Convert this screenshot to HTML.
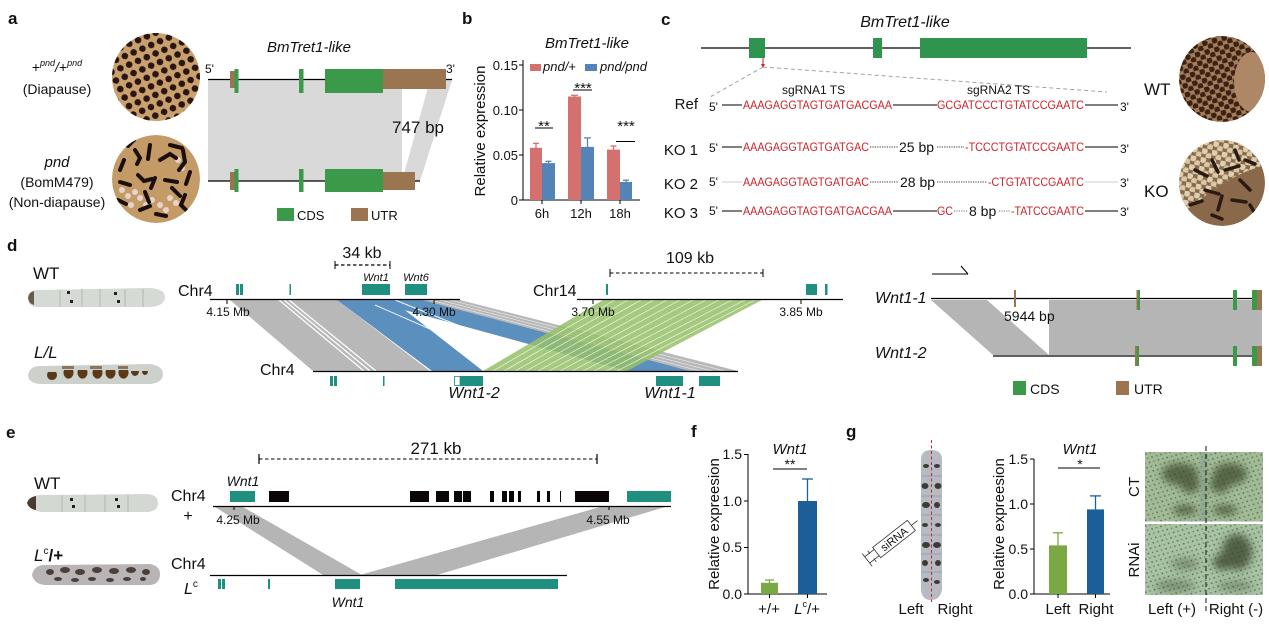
<!DOCTYPE html>
<html><head><meta charset="utf-8"><style>
html,body{margin:0;padding:0;background:#fff;}
svg{display:block;}
text{font-family:"Liberation Sans",Arial,sans-serif;fill:#111;}
.it{font-style:italic;}
.b{font-weight:bold;}
.seq{fill:#cc2229;font-size:11.5px;}
</style></head><body>
<svg width="1269" height="625" viewBox="0 0 1269 625" xmlns="http://www.w3.org/2000/svg">
<defs>
 <pattern id="eggs1" width="14" height="13" patternUnits="userSpaceOnUse" patternTransform="rotate(20)">
  <circle cx="3.5" cy="3.5" r="3.3" fill="#2b1512"/><circle cx="10.5" cy="10" r="3.3" fill="#2b1512"/>
 </pattern>
 <pattern id="eggs2" width="10" height="9" patternUnits="userSpaceOnUse" patternTransform="rotate(-15)">
  <circle cx="2.5" cy="2.5" r="3" fill="#3a2217"/><circle cx="7.5" cy="7" r="3" fill="#3a2217"/>
 </pattern>
 <pattern id="eggs3" width="10" height="9" patternUnits="userSpaceOnUse" patternTransform="rotate(10)">
  <circle cx="2.5" cy="2.5" r="3.2" fill="#ddd0b0"/><circle cx="7.5" cy="7" r="3.2" fill="#d8c8a6"/>
 </pattern>
 <pattern id="speck" width="7" height="6" patternUnits="userSpaceOnUse" patternTransform="rotate(25)">
  <circle cx="1.5" cy="1.5" r="0.9" fill="#3e4a36" opacity="0.7"/><circle cx="5" cy="4.5" r="0.8" fill="#3e4a36" opacity="0.6"/>
 </pattern>
 <clipPath id="ca1"><circle cx="156" cy="77" r="44"/></clipPath>
 <clipPath id="ca2"><circle cx="156" cy="179" r="44"/></clipPath>
 <clipPath id="cc1"><circle cx="1222" cy="79" r="43"/></clipPath>
 <clipPath id="cc2"><circle cx="1222" cy="183" r="43"/></clipPath>
 <filter id="bl" x="-50%" y="-50%" width="200%" height="200%"><feGaussianBlur stdDeviation="4"/></filter>
 <filter id="bl2" x="-50%" y="-50%" width="200%" height="200%"><feGaussianBlur stdDeviation="1.2"/></filter>
</defs>

<!-- ================= PANEL A ================= -->
<text x="8" y="24" class="b" font-size="17">a</text>
<text x="57" y="72" text-anchor="middle" font-size="14">+<tspan font-size="9" class="it" dy="-6">pnd</tspan><tspan dy="6" class="it">/</tspan>+<tspan font-size="9" class="it" dy="-6">pnd</tspan></text>
<text x="57" y="94" text-anchor="middle" font-size="14">(Diapause)</text>
<text x="57" y="167" text-anchor="middle" font-size="15" class="it">pnd</text>
<text x="57" y="187" text-anchor="middle" font-size="14">(BomM479)</text>
<text x="57" y="207" text-anchor="middle" font-size="14">(Non-diapause)</text>

<circle cx="156" cy="77" r="44" fill="#c9a16e"/>
<circle cx="156" cy="77" r="44" fill="url(#eggs1)"/>
<g clip-path="url(#ca2)">
 <circle cx="156" cy="179" r="44" fill="#c49b66"/>
 <g fill="#eadbd6" opacity="0.9">
  <circle cx="122" cy="190" r="3"/><circle cx="128" cy="196" r="3"/><circle cx="135" cy="192" r="3"/><circle cx="140" cy="198" r="3"/><circle cx="146" cy="205" r="3"/><circle cx="152" cy="200" r="3"/><circle cx="160" cy="205" r="3"/><circle cx="170" cy="198" r="3"/><circle cx="176" cy="203" r="3"/><circle cx="131" cy="205" r="3"/><circle cx="166" cy="210" r="3"/><circle cx="182" cy="168" r="3"/><circle cx="178" cy="160" r="3"/>
 </g>
 <g stroke="#1a0f0c" stroke-width="4" stroke-linecap="round" fill="none">
  <path d="M124,160 l-4,10"/><path d="M135,150 l5,8 l-3,6"/><path d="M150,145 l-2,14"/><path d="M160,160 l10,-6 l6,4"/><path d="M170,145 l12,3"/><path d="M183,150 l2,12 l-6,8"/><path d="M190,172 l-4,12"/><path d="M120,182 l10,3"/><path d="M138,175 l6,6 l8,-2"/><path d="M155,178 l-4,10"/><path d="M165,180 l12,2"/><path d="M172,188 l8,8"/><path d="M118,200 l8,4"/><path d="M140,210 l10,-4"/><path d="M156,214 l10,2"/><path d="M185,195 l-4,10 l6,6"/><path d="M145,192 l4,10"/><path d="M128,146 l6,-6"/>
 </g>
</g>

<text x="309" y="52" text-anchor="middle" font-size="15" class="it">BmTret1-like</text>
<text x="205" y="73" font-size="12">5'</text>
<text x="446" y="73" font-size="12">3'</text>
<polygon points="208,80 402,80 402,181 208,181" fill="#d9d9d9"/>
<polygon points="430,80 452,80 420,181 402,181" fill="#d9d9d9"/>
<line x1="208" y1="79.5" x2="452" y2="79.5" stroke="#000" stroke-width="1.3"/>
<line x1="208" y1="181" x2="420" y2="181" stroke="#000" stroke-width="1.3"/>
<rect x="230" y="71" width="5" height="17" fill="#9a7550"/>
<rect x="234.5" y="69" width="4" height="24" fill="#3a9a4a"/>
<rect x="299" y="69" width="4.5" height="24" fill="#3a9a4a"/>
<rect x="325" y="69" width="58" height="24" fill="#3a9a4a"/>
<rect x="383" y="69" width="63" height="20" fill="#9a7550"/>
<rect x="230" y="172" width="5" height="18" fill="#9a7550"/>
<rect x="234.5" y="169" width="4" height="23" fill="#3a9a4a"/>
<rect x="299" y="169" width="4.5" height="23" fill="#3a9a4a"/>
<rect x="325" y="169" width="58" height="23" fill="#3a9a4a"/>
<rect x="383" y="172" width="32" height="18" fill="#9a7550"/>
<text x="392" y="133" font-size="17">747 bp</text>
<rect x="277" y="208" width="17" height="13" fill="#3a9a4a"/>
<text x="297" y="220" font-size="13">CDS</text>
<rect x="351" y="208" width="17" height="13" fill="#9a7550"/>
<text x="371" y="220" font-size="13">UTR</text>

<!-- ================= PANEL B ================= -->
<text x="462" y="24" class="b" font-size="17">b</text>
<text x="587" y="48" text-anchor="middle" font-size="15" class="it">BmTret1-like</text>
<text transform="translate(485,131) rotate(-90)" text-anchor="middle" font-size="15">Relative expression</text>
<g stroke="#000" stroke-width="1">
 <line x1="523" y1="60" x2="523" y2="200.5"/>
 <line x1="523" y1="200" x2="640" y2="200"/>
 <line x1="519" y1="65" x2="523" y2="65"/><line x1="519" y1="110" x2="523" y2="110"/><line x1="519" y1="155" x2="523" y2="155"/><line x1="519" y1="200" x2="523" y2="200"/>
 <line x1="542" y1="200" x2="542" y2="204"/><line x1="581" y1="200" x2="581" y2="204"/><line x1="620" y1="200" x2="620" y2="204"/>
</g>
<g font-size="13" text-anchor="end">
 <text x="518" y="70">0.15</text><text x="518" y="115">0.10</text><text x="518" y="160">0.05</text><text x="518" y="205">0</text>
</g>
<g font-size="13" text-anchor="middle">
 <text x="542" y="218">6h</text><text x="581" y="218">12h</text><text x="620" y="218">18h</text>
</g>
<g fill="#d4716f"><rect x="530" y="147.8" width="12" height="52.2"/><rect x="568" y="96.5" width="13" height="103.5"/><rect x="607" y="149.6" width="13" height="50.4"/></g>
<g fill="#5384b5"><rect x="542" y="163.1" width="13" height="36.9"/><rect x="581" y="146.9" width="13" height="53.1"/><rect x="620" y="182" width="12" height="18"/></g>
<g stroke="#d4716f" stroke-width="1.3"><line x1="536" y1="148" x2="536" y2="143.3"/><line x1="533" y1="143.3" x2="539" y2="143.3"/><line x1="574.5" y1="96.5" x2="574.5" y2="95.3"/><line x1="571" y1="95.3" x2="578" y2="95.3"/><line x1="613.5" y1="149.6" x2="613.5" y2="146"/><line x1="610.5" y1="146" x2="616.5" y2="146"/></g>
<g stroke="#5384b5" stroke-width="1.3"><line x1="548.5" y1="163" x2="548.5" y2="161.3"/><line x1="545.5" y1="161.3" x2="551.5" y2="161.3"/><line x1="587.5" y1="147" x2="587.5" y2="137.9"/><line x1="584" y1="137.9" x2="591" y2="137.9"/><line x1="626" y1="182" x2="626" y2="180.2"/><line x1="623" y1="180.2" x2="629" y2="180.2"/></g>
<g stroke="#000" stroke-width="1"><line x1="535" y1="128" x2="553" y2="128"/><line x1="573" y1="90" x2="592" y2="90"/><line x1="616" y1="141.5" x2="635" y2="141.5"/></g>
<g font-size="15" text-anchor="middle"><text x="544" y="131">**</text><text x="583" y="93">***</text><text x="626" y="131">***</text></g>
<rect x="530" y="64" width="11" height="7" fill="#d4716f"/>
<text x="543" y="71" font-size="13" class="it">pnd/+</text>
<rect x="585" y="64" width="12" height="7" fill="#5384b5"/>
<text x="600" y="71" font-size="13" class="it">pnd/pnd</text>

<!-- ================= PANEL C ================= -->
<text x="661" y="25" class="b" font-size="17">c</text>
<text x="905" y="27" text-anchor="middle" font-size="16" class="it">BmTret1-like</text>
<line x1="701" y1="48" x2="1131" y2="48" stroke="#000" stroke-width="1.2"/>
<rect x="749" y="38" width="16" height="20" fill="#2e944e"/>
<rect x="873" y="38" width="9" height="20" fill="#2e944e"/>
<rect x="920" y="38" width="167" height="20" fill="#2e944e"/>
<line x1="763" y1="58" x2="763" y2="64" stroke="#cc2229" stroke-width="1"/>
<polygon points="761,64 765,64 763,68" fill="#cc2229"/>
<g stroke="#999" stroke-width="0.9" stroke-dasharray="4,3" fill="none">
 <line x1="763" y1="67" x2="710" y2="97"/>
 <line x1="763" y1="67" x2="1107" y2="92"/>
</g>
<text x="782" y="94" font-size="12">sgRNA1 TS</text>
<text x="967" y="94" font-size="12">sgRNA2 TS</text>
<text x="698" y="109" text-anchor="end" font-size="15">Ref</text>
<text x="709" y="111" font-size="12">5'</text>
<line x1="722" y1="105" x2="742" y2="105" stroke="#000" stroke-width="0.9"/>
<text x="743" y="109" class="seq" textLength="149" lengthAdjust="spacingAndGlyphs">AAAGAGGTAGTGATGACGAA</text>
<line x1="893" y1="105" x2="937" y2="105" stroke="#000" stroke-width="0.9"/>
<text x="937" y="109" class="seq" textLength="147" lengthAdjust="spacingAndGlyphs">GCGATCCCTGTATCCGAATC</text>
<line x1="1085" y1="105" x2="1118" y2="105" stroke="#000" stroke-width="0.9"/>
<text x="1120" y="111" font-size="12">3'</text>
<text x="698" y="155" text-anchor="end" font-size="15">KO 1</text>
<text x="709" y="152" font-size="12">5'</text>
<line x1="722" y1="147" x2="742" y2="147" stroke="#000" stroke-width="0.9"/>
<text x="743" y="151" class="seq" textLength="126" lengthAdjust="spacingAndGlyphs">AAAGAGGTAGTGATGAC</text>
<line x1="870" y1="147" x2="898" y2="147" stroke="#333" stroke-width="0.9" stroke-dasharray="1.2,1.2"/>
<text x="899" y="152" font-size="14">25 bp</text>
<line x1="937" y1="147" x2="964" y2="147" stroke="#333" stroke-width="0.9" stroke-dasharray="1.2,1.2"/>
<text x="965" y="151" class="seq" textLength="119" lengthAdjust="spacingAndGlyphs">-TCCCTGTATCCGAATC</text>
<line x1="1085" y1="147" x2="1118" y2="147" stroke="#000" stroke-width="0.9"/>
<text x="1120" y="153" font-size="12">3'</text>
<text x="698" y="189" text-anchor="end" font-size="15">KO 2</text>
<text x="709" y="186" font-size="12">5'</text>
<line x1="722" y1="182" x2="742" y2="182" stroke="#ccc" stroke-width="0.9"/>
<text x="743" y="186" class="seq" textLength="126" lengthAdjust="spacingAndGlyphs">AAAGAGGTAGTGATGAC</text>
<line x1="870" y1="182" x2="899" y2="182" stroke="#333" stroke-width="0.9" stroke-dasharray="1.2,1.2"/>
<text x="900" y="187" font-size="14">28 bp</text>
<line x1="937" y1="182" x2="987" y2="182" stroke="#333" stroke-width="0.9" stroke-dasharray="1.2,1.2"/>
<text x="988" y="186" class="seq" textLength="96" lengthAdjust="spacingAndGlyphs">-CTGTATCCGAATC</text>
<line x1="1085" y1="182" x2="1118" y2="182" stroke="#ccc" stroke-width="0.9"/>
<text x="1120" y="187" font-size="12">3'</text>
<text x="698" y="218" text-anchor="end" font-size="15">KO 3</text>
<text x="709" y="215" font-size="12">5'</text>
<line x1="722" y1="211" x2="742" y2="211" stroke="#000" stroke-width="0.9"/>
<text x="743" y="215" class="seq" textLength="149" lengthAdjust="spacingAndGlyphs">AAAGAGGTAGTGATGACGAA</text>
<line x1="893" y1="211" x2="937" y2="211" stroke="#000" stroke-width="0.9"/>
<text x="937" y="215" class="seq" textLength="16" lengthAdjust="spacingAndGlyphs">GC</text>
<line x1="954" y1="211" x2="968" y2="211" stroke="#777" stroke-width="0.9" stroke-dasharray="1.2,1.2"/>
<text x="969" y="216" font-size="14">8 bp</text>
<line x1="999" y1="211" x2="1010" y2="211" stroke="#777" stroke-width="0.9" stroke-dasharray="1.2,1.2"/>
<text x="1011" y="215" class="seq" textLength="73" lengthAdjust="spacingAndGlyphs">-TATCCGAATC</text>
<line x1="1085" y1="211" x2="1118" y2="211" stroke="#000" stroke-width="0.9"/>
<text x="1120" y="216" font-size="12">3'</text>

<text x="1144" y="95" font-size="17">WT</text>
<text x="1144" y="197" font-size="17">KO</text>
<g clip-path="url(#cc1)">
 <circle cx="1222" cy="79" r="43" fill="#a77d58"/>
 <circle cx="1222" cy="79" r="43" fill="url(#eggs2)"/>
 <ellipse cx="1252" cy="82" rx="18" ry="30" fill="#ad8766"/>
</g>
<g clip-path="url(#cc2)">
 <circle cx="1222" cy="183" r="43" fill="#8a684a"/>
 <path d="M1179,140 L1265,140 L1265,165 Q1230,175 1200,200 L1179,215Z" fill="url(#eggs3)"/>
 <g stroke="#2a1a12" stroke-width="3.5" stroke-linecap="round" fill="none">
  <path d="M1195,170 l12,6"/><path d="M1212,160 l6,12"/><path d="M1225,170 l14,-4"/><path d="M1240,180 l10,10"/><path d="M1205,190 l14,4"/><path d="M1222,196 l-4,14"/><path d="M1232,200 l14,2"/><path d="M1190,205 l12,-4"/><path d="M1245,160 l10,4"/><path d="M1212,215 l10,4"/><path d="M1250,205 l6,10"/><path d="M1235,150 l4,10"/>
 </g>
</g>

<!-- ================= PANEL D ================= -->
<text x="7" y="251" class="b" font-size="17">d</text>
<text x="33" y="279" font-size="17">WT</text>
<text x="34" y="358" font-size="17" class="it">L/L</text>
<path d="M28,298 Q28,290 38,290 L150,288 Q165,289 165,297 Q165,306 150,307 L38,307 Q28,307 28,298Z" fill="#d6dad4"/>
<path d="M28,298 Q29,292 34,291 L34,305 Q29,304 28,298Z" fill="#6a5a48"/>
<g fill="#222"><rect x="67" y="291" width="3" height="3"/><rect x="70" y="300" width="3" height="3"/><rect x="114" y="292" width="3" height="3"/><rect x="117" y="300" width="3" height="3"/></g>
<g stroke="#b4b8b2" stroke-width="1"><line x1="60" y1="290" x2="60" y2="307"/><line x1="82" y1="289" x2="82" y2="307"/><line x1="100" y1="289" x2="100" y2="307"/><line x1="125" y1="289" x2="125" y2="307"/><line x1="143" y1="289" x2="143" y2="307"/></g>
<path d="M28,375 Q30,366 40,366 L150,364 Q163,366 163,374 Q163,383 150,384 L40,384 Q28,383 28,375Z" fill="#cdd1cc"/>
<g fill="#5a3818">
 <path d="M48,372 a5,5 0 1,0 8,0Z"/><path d="M64,370 a5,6 0 1,0 9,0Z"/><path d="M78,370 a5,6 0 1,0 9,0Z"/><path d="M93,370 a5,6 0 1,0 9,0Z"/><path d="M106,370 a5,6 0 1,0 9,0Z"/><path d="M119,370 a5,6 0 1,0 9,0Z"/><path d="M131,371 a4,5 0 1,0 8,0Z"/><path d="M142,371 a3,4 0 1,0 6,0Z"/>
 <rect x="62" y="366" width="12" height="3" opacity="0.6"/><rect x="90" y="366" width="12" height="3" opacity="0.6"/><rect x="118" y="366" width="10" height="3" opacity="0.6"/>
</g>

<polygon points="230,300 337,300 430,371 313,371" fill="#b8b8b8"/>
<g stroke="#fff" stroke-width="1.2"><line x1="279" y1="300" x2="364" y2="371"/><line x1="284" y1="300" x2="370" y2="371"/><line x1="289" y1="300" x2="376" y2="371"/></g>
<polygon points="420,300 460,300 738,371 690,371" fill="#b8b8b8"/>
<g stroke="#fff" stroke-width="0.6" opacity="0.8"><line x1="430" y1="300" x2="700" y2="371"/><line x1="440" y1="300" x2="712" y2="371"/><line x1="450" y1="300" x2="725" y2="371"/></g>
<polygon points="368,300 422,300 690,371 627,371" fill="#5b8fbd"/>
<polygon points="337,300 392,300 483,371 432,371" fill="#5b8fbd"/>
<g stroke="#fff" stroke-width="1" opacity="0.9"><line x1="375" y1="305" x2="455" y2="340"/><line x1="395" y1="300" x2="470" y2="330"/></g>
<polygon points="603,300 762,300 627,371 483,371" fill="#97c06a" opacity="0.85"/>
<g stroke="#fff" stroke-width="0.7" opacity="0.85">
 <line x1="615" y1="300" x2="493" y2="371"/><line x1="628" y1="300" x2="504" y2="371"/><line x1="641" y1="300" x2="515" y2="371"/><line x1="654" y1="300" x2="526" y2="371"/><line x1="667" y1="300" x2="538" y2="371"/><line x1="680" y1="300" x2="549" y2="371"/><line x1="693" y1="300" x2="560" y2="371"/><line x1="706" y1="300" x2="572" y2="371"/><line x1="719" y1="300" x2="583" y2="371"/><line x1="732" y1="300" x2="594" y2="371"/><line x1="745" y1="300" x2="606" y2="371"/><line x1="755" y1="300" x2="617" y2="371"/>
</g>
<text x="178" y="296" font-size="16">Chr4</text>
<line x1="210" y1="299.5" x2="460" y2="299.5" stroke="#000" stroke-width="1.2"/>
<line x1="227" y1="299" x2="227" y2="304" stroke="#000"/><line x1="434" y1="299" x2="434" y2="304" stroke="#000"/>
<text x="228" y="316" text-anchor="middle" font-size="12">4.15 Mb</text>
<text x="434" y="316" text-anchor="middle" font-size="12">4.30 Mb</text>
<g fill="#1f9080"><rect x="236" y="284" width="3" height="11"/><rect x="240" y="284" width="3" height="11"/><rect x="289.5" y="284" width="1.5" height="11"/><rect x="362" y="284" width="28" height="11"/><rect x="405" y="284" width="22" height="11"/></g>
<text x="376" y="281" text-anchor="middle" font-size="11" class="it">Wnt1</text>
<text x="416" y="281" text-anchor="middle" font-size="11" class="it">Wnt6</text>
<text x="362" y="258" text-anchor="middle" font-size="16">34 kb</text>
<line x1="335" y1="265" x2="390" y2="265" stroke="#000" stroke-width="1.2" stroke-dasharray="3.5,2.5"/>
<line x1="335" y1="261" x2="335" y2="269" stroke="#000"/><line x1="390" y1="261" x2="390" y2="269" stroke="#000"/>
<text x="533" y="296" font-size="16">Chr14</text>
<line x1="577" y1="299.5" x2="843" y2="299.5" stroke="#000" stroke-width="1.2"/>
<line x1="593" y1="299" x2="593" y2="304" stroke="#000"/><line x1="801" y1="299" x2="801" y2="304" stroke="#000"/>
<text x="593" y="316" text-anchor="middle" font-size="12">3.70 Mb</text>
<text x="801" y="316" text-anchor="middle" font-size="12">3.85 Mb</text>
<g fill="#1f9080"><rect x="606" y="284" width="2" height="11"/><rect x="806" y="284" width="11" height="11"/><rect x="825" y="284" width="2.5" height="11"/></g>
<text x="690" y="263" text-anchor="middle" font-size="16">109 kb</text>
<line x1="610" y1="273" x2="763" y2="273" stroke="#000" stroke-width="1" stroke-dasharray="3.5,2.5"/>
<line x1="610" y1="269" x2="610" y2="277" stroke="#000"/><line x1="763" y1="269" x2="763" y2="277" stroke="#000"/>
<text x="260" y="375" font-size="16">Chr4</text>
<line x1="313" y1="371.5" x2="738" y2="371.5" stroke="#000" stroke-width="1.2"/>
<g fill="#1f9080"><rect x="330" y="376" width="3" height="10"/><rect x="334" y="376" width="3" height="10"/><rect x="383" y="376" width="1.5" height="10"/><rect x="460" y="376" width="23" height="10"/><rect x="656" y="376" width="27" height="10"/><rect x="699" y="376" width="21" height="10"/></g>
<rect x="454.5" y="376.5" width="5.5" height="9" fill="#fff" stroke="#1f9080" stroke-width="0.8"/>
<text x="474" y="398" text-anchor="middle" font-size="16" class="it">Wnt1-2</text>
<text x="670" y="398" text-anchor="middle" font-size="16" class="it">Wnt1-1</text>

<line x1="932" y1="274" x2="968" y2="274" stroke="#000" stroke-width="1"/>
<line x1="968" y1="274" x2="961" y2="266" stroke="#000" stroke-width="1"/>
<polygon points="931,300 987,300 1049,355 993,355" fill="#b5b5b5"/>
<rect x="1049" y="300" width="213" height="55" fill="#b5b5b5"/>
<line x1="931" y1="298.5" x2="1262" y2="298.5" stroke="#000" stroke-width="1.2"/>
<line x1="993" y1="356" x2="1262" y2="356" stroke="#000" stroke-width="1.2"/>
<text x="875" y="303" font-size="16" class="it">Wnt1-1</text>
<text x="875" y="358" font-size="16" class="it">Wnt1-2</text>
<text x="1004" y="321" font-size="14">5944 bp</text>
<rect x="1014" y="290" width="2" height="17" fill="#9a7550"/>
<rect x="1136.5" y="290" width="2" height="20" fill="#9a7550"/><rect x="1138" y="290" width="2" height="20" fill="#3a9a4a"/>
<rect x="1233" y="290" width="4" height="20" fill="#3a9a4a"/>
<rect x="1252" y="290" width="5" height="20" fill="#3a9a4a"/><rect x="1257" y="290" width="5" height="20" fill="#9a7550"/>
<rect x="1135" y="346" width="2" height="20" fill="#9a7550"/><rect x="1137" y="346" width="2" height="20" fill="#3a9a4a"/>
<rect x="1233" y="346" width="4" height="20" fill="#3a9a4a"/>
<rect x="1252" y="346" width="5" height="20" fill="#3a9a4a"/><rect x="1257" y="346" width="5" height="20" fill="#9a7550"/>
<rect x="1013" y="381" width="13" height="14" fill="#3a9a4a"/>
<text x="1030" y="394" font-size="14">CDS</text>
<rect x="1116" y="381" width="13" height="14" fill="#9a7550"/>
<text x="1134" y="394" font-size="14">UTR</text>

<!-- ================= PANEL E ================= -->
<text x="6" y="438" class="b" font-size="17">e</text>
<text x="34" y="489" font-size="17">WT</text>
<text x="34" y="561" font-size="17" class="it">L<tspan font-size="10" dy="-7" font-style="normal">c</tspan><tspan dy="7" font-style="normal" font-weight="bold">/+</tspan></text>
<path d="M27,503 Q30,495 42,495 L148,494 Q158,495 158,503 Q158,511 148,512 L42,512 Q30,511 27,503Z" fill="#d3d8d2"/>
<path d="M27,503 Q29,497 36,496 L36,510 Q29,509 27,503Z" fill="#4a3a30"/>
<g fill="#222"><rect x="70" y="498" width="3" height="3"/><rect x="72" y="505" width="3" height="3"/><rect x="115" y="498" width="3" height="3"/><rect x="117" y="505" width="3" height="3"/></g>
<g stroke="#b4b8b2" stroke-width="1"><line x1="62" y1="495" x2="62" y2="512"/><line x1="85" y1="495" x2="85" y2="512"/><line x1="105" y1="495" x2="105" y2="512"/><line x1="128" y1="495" x2="128" y2="512"/></g>
<path d="M32,575 Q34,565 45,565 L150,564 Q160,566 160,574 Q160,584 150,585 L45,585 Q34,584 32,575Z" fill="#b9b5b7"/>
<g fill="#3a2a22" opacity="0.85">
 <ellipse cx="50" cy="572" rx="4" ry="3"/><ellipse cx="65" cy="570" rx="5" ry="3"/><ellipse cx="80" cy="572" rx="5" ry="3"/><ellipse cx="97" cy="570" rx="5" ry="3"/><ellipse cx="114" cy="571" rx="5" ry="3"/><ellipse cx="131" cy="570" rx="5" ry="3"/><ellipse cx="146" cy="572" rx="4" ry="3"/>
 <ellipse cx="58" cy="579" rx="4" ry="2"/><ellipse cx="75" cy="580" rx="4" ry="2"/><ellipse cx="92" cy="579" rx="4" ry="2"/><ellipse cx="110" cy="580" rx="4" ry="2"/><ellipse cx="127" cy="579" rx="4" ry="2"/><ellipse cx="143" cy="579" rx="3" ry="2"/>
</g>
<text x="171" y="501" font-size="16">Chr4</text>
<text x="188" y="521" text-anchor="middle" font-size="16">+</text>
<text x="171" y="569" font-size="16">Chr4</text>
<text x="184" y="594" font-size="16" class="it">L<tspan font-size="10" dy="-7" font-style="normal">c</tspan></text>
<polygon points="215,507 243,507 362,575 323,575" fill="#b5b5b5"/>
<polygon points="600,507 665,507 437,575 360,575" fill="#b5b5b5"/>
<line x1="213" y1="506.5" x2="671" y2="506.5" stroke="#000" stroke-width="1.2"/>
<line x1="234" y1="506" x2="234" y2="510" stroke="#000"/><line x1="609" y1="506" x2="609" y2="510" stroke="#000"/>
<text x="238" y="524" text-anchor="middle" font-size="12">4.25 Mb</text>
<text x="608" y="524" text-anchor="middle" font-size="12">4.55 Mb</text>
<line x1="210" y1="575.5" x2="567" y2="575.5" stroke="#000" stroke-width="1.2"/>
<rect x="230" y="491" width="25" height="11" fill="#1f9080"/>
<text x="243" y="486" text-anchor="middle" font-size="14" class="it">Wnt1</text>
<g fill="#0a0606">
 <rect x="269" y="491" width="20" height="11"/><rect x="410" y="491" width="19" height="11"/><rect x="436" y="491" width="13" height="11"/><rect x="454" y="491" width="8" height="11"/><rect x="463" y="491" width="8" height="11"/><rect x="490" y="491" width="4" height="11"/><rect x="502" y="491" width="5" height="11"/><rect x="509" y="491" width="5" height="11"/><rect x="518" y="491" width="3" height="11"/><rect x="537" y="491" width="3" height="11"/><rect x="547" y="491" width="3" height="11"/><rect x="560" y="491" width="1" height="11"/><rect x="575" y="491" width="34" height="11"/>
</g>
<rect x="627" y="491" width="44" height="11" fill="#1f9080"/>
<line x1="259" y1="459" x2="597" y2="459" stroke="#000" stroke-width="1" stroke-dasharray="3.5,2.5"/>
<line x1="259" y1="454" x2="259" y2="464" stroke="#000" stroke-width="1.2"/><line x1="597" y1="454" x2="597" y2="464" stroke="#000" stroke-width="1.2"/>
<text x="436" y="454" text-anchor="middle" font-size="17">271 kb</text>
<g fill="#1f9080"><rect x="218" y="579" width="3" height="10"/><rect x="222" y="579" width="3" height="10"/><rect x="268" y="579" width="2" height="10"/><rect x="335" y="579" width="25" height="10"/><rect x="395" y="579" width="163" height="10"/></g>
<text x="348" y="607" text-anchor="middle" font-size="14" class="it">Wnt1</text>

<!-- ================= PANEL F ================= -->
<text x="691" y="437" class="b" font-size="17">f</text>
<text x="790" y="454" text-anchor="middle" font-size="15" class="it">Wnt1</text>
<text x="790" y="469" text-anchor="middle" font-size="14">**</text>
<line x1="773" y1="469" x2="807" y2="469" stroke="#000" stroke-width="1"/>
<text transform="translate(719,524) rotate(-90)" text-anchor="middle" font-size="15">Relative expreesion</text>
<g stroke="#000" stroke-width="1">
 <line x1="748" y1="454" x2="748" y2="594.5"/><line x1="748" y1="594" x2="827" y2="594"/>
 <line x1="744" y1="454.5" x2="748" y2="454.5"/><line x1="744" y1="501" x2="748" y2="501"/><line x1="744" y1="547.5" x2="748" y2="547.5"/><line x1="744" y1="594" x2="748" y2="594"/>
 <line x1="769.5" y1="594" x2="769.5" y2="598"/><line x1="807.5" y1="594" x2="807.5" y2="598"/>
</g>
<g font-size="14" text-anchor="end"><text x="742" y="459">1.5</text><text x="742" y="506">1.0</text><text x="742" y="552">0.5</text><text x="742" y="599">0.0</text></g>
<rect x="761" y="582.8" width="17" height="11.2" fill="#7aa843"/>
<rect x="798" y="501" width="19" height="93" fill="#1c5e98"/>
<g stroke="#1c5e98" stroke-width="1.3"><line x1="807.5" y1="501" x2="807.5" y2="479"/><line x1="802" y1="479" x2="813" y2="479"/></g>
<g stroke="#7aa843" stroke-width="1.3"><line x1="769.5" y1="583" x2="769.5" y2="580"/><line x1="765" y1="580" x2="774" y2="580"/></g>
<text x="769" y="614" text-anchor="middle" font-size="15">+/+</text>
<text x="807" y="614" text-anchor="middle" font-size="15"><tspan class="it">L</tspan><tspan font-size="9" dy="-7">c</tspan><tspan dy="7">/+</tspan></text>

<!-- ================= PANEL G ================= -->
<text x="846" y="437" class="b" font-size="17">g</text>
<path d="M921,458 Q922,450 931,450 Q941,450 942,458 L942,590 Q940,600 931,600 Q922,600 921,590Z" fill="#b6bbc3"/>
<g fill="#2a2420" opacity="0.85">
 <ellipse cx="926" cy="466" rx="3" ry="2"/><ellipse cx="937" cy="466" rx="3" ry="2"/><ellipse cx="925" cy="486" rx="3.5" ry="3"/><ellipse cx="938" cy="486" rx="3.5" ry="3"/><ellipse cx="926" cy="505" rx="4" ry="3"/><ellipse cx="937" cy="505" rx="3" ry="3"/><ellipse cx="925" cy="525" rx="3" ry="2"/><ellipse cx="938" cy="525" rx="3" ry="2"/><ellipse cx="926" cy="545" rx="4" ry="3"/><ellipse cx="937" cy="545" rx="4" ry="3"/><ellipse cx="925" cy="563" rx="3" ry="3"/><ellipse cx="938" cy="563" rx="3" ry="3"/><ellipse cx="926" cy="580" rx="3" ry="2"/><ellipse cx="937" cy="582" rx="3" ry="2"/>
</g>
<g stroke="#9ca0a8" stroke-width="1"><line x1="921" y1="476" x2="942" y2="476"/><line x1="921" y1="496" x2="942" y2="496"/><line x1="921" y1="515" x2="942" y2="515"/><line x1="921" y1="535" x2="942" y2="535"/><line x1="921" y1="554" x2="942" y2="554"/><line x1="921" y1="572" x2="942" y2="572"/></g>
<line x1="931.5" y1="440" x2="931.5" y2="602" stroke="#cc2229" stroke-width="1" stroke-dasharray="3,2.5"/>
<g transform="translate(894,539) rotate(-38)" stroke="#333" stroke-width="0.8" fill="none">
 <rect x="-22" y="-6.5" width="44" height="13" fill="#fff" fill-opacity="0.3"/>
 <line x1="22" y1="0" x2="30" y2="0"/>
 <line x1="-22" y1="-4" x2="-34" y2="-4"/><line x1="-22" y1="4" x2="-34" y2="4"/>
 <line x1="-34" y1="-8" x2="-34" y2="8"/><line x1="-28" y1="-7" x2="-28" y2="-3"/><line x1="-28" y1="3" x2="-28" y2="7"/>
 <text x="0" y="4" text-anchor="middle" font-size="11" stroke="none" fill="#222">siRNA</text>
</g>
<text x="911" y="614" text-anchor="middle" font-size="15">Left</text>
<text x="955" y="614" text-anchor="middle" font-size="15">Right</text>

<text x="1080" y="454" text-anchor="middle" font-size="15" class="it">Wnt1</text>
<text x="1080" y="469" text-anchor="middle" font-size="14">*</text>
<line x1="1058" y1="468" x2="1100" y2="468" stroke="#000" stroke-width="1"/>
<text transform="translate(1004,524) rotate(-90)" text-anchor="middle" font-size="15">Relative expreesion</text>
<g stroke="#000" stroke-width="1">
 <line x1="1034" y1="459" x2="1034" y2="594.5"/><line x1="1034" y1="594" x2="1110" y2="594"/>
 <line x1="1030" y1="459" x2="1034" y2="459"/><line x1="1030" y1="504" x2="1034" y2="504"/><line x1="1030" y1="549" x2="1034" y2="549"/><line x1="1030" y1="594" x2="1034" y2="594"/>
 <line x1="1058" y1="594" x2="1058" y2="598"/><line x1="1095.5" y1="594" x2="1095.5" y2="598"/>
</g>
<g font-size="14" text-anchor="end"><text x="1028" y="464">1.5</text><text x="1028" y="509">1.0</text><text x="1028" y="554">0.5</text><text x="1028" y="599">0.0</text></g>
<rect x="1049" y="545.4" width="18" height="48.6" fill="#7aa843"/>
<rect x="1087" y="509.4" width="17" height="84.6" fill="#1c5e98"/>
<g stroke="#7aa843" stroke-width="1.3"><line x1="1058" y1="545.4" x2="1058" y2="532.8"/><line x1="1053" y1="532.8" x2="1063" y2="532.8"/></g>
<g stroke="#1c5e98" stroke-width="1.3"><line x1="1095.5" y1="509.4" x2="1095.5" y2="495.9"/><line x1="1090" y1="495.9" x2="1101" y2="495.9"/></g>
<text x="1058" y="614" text-anchor="middle" font-size="15">Left</text>
<text x="1096" y="614" text-anchor="middle" font-size="15">Right</text>

<svg x="1145" y="452" width="118" height="70" overflow="hidden">
 <rect width="118" height="70" fill="#a2bb97"/>
 <g filter="url(#bl)" fill="#4f5e3c" opacity="0.9">
  <ellipse cx="35" cy="22" rx="18" ry="11"/><ellipse cx="45" cy="32" rx="10" ry="9"/><ellipse cx="40" cy="58" rx="12" ry="5"/>
  <ellipse cx="85" cy="22" rx="17" ry="11"/><ellipse cx="75" cy="32" rx="10" ry="9"/><ellipse cx="80" cy="58" rx="12" ry="5"/>
 </g>
 <rect width="118" height="70" fill="url(#speck)"/>
 <rect x="55" y="0" width="8" height="70" fill="#7f9e8c" opacity="0.5" filter="url(#bl2)"/>
</svg>
<svg x="1145" y="524" width="118" height="71" overflow="hidden">
 <rect width="118" height="71" fill="#a7c3a3"/>
 <g filter="url(#bl)" fill="#4a563a" opacity="0.9">
  <ellipse cx="92" cy="28" rx="15" ry="18"/><ellipse cx="78" cy="38" rx="10" ry="8"/>
  <ellipse cx="40" cy="40" rx="14" ry="6" opacity="0.5"/><ellipse cx="30" cy="62" rx="20" ry="6" opacity="0.5"/><ellipse cx="90" cy="62" rx="18" ry="5" opacity="0.5"/>
 </g>
 <rect width="118" height="71" fill="url(#speck)"/>
</svg>
<line x1="1145" y1="522.5" x2="1263" y2="522.5" stroke="#fff" stroke-width="2"/>
<line x1="1206" y1="446" x2="1206" y2="612" stroke="#111" stroke-width="1" stroke-dasharray="5,3"/>
<text transform="translate(1139,487) rotate(-90)" text-anchor="middle" font-size="15">CT</text>
<text transform="translate(1139,560) rotate(-90)" text-anchor="middle" font-size="15">RNAi</text>
<text x="1172" y="614" text-anchor="middle" font-size="15">Left (+)</text>
<text x="1236" y="614" text-anchor="middle" font-size="15">Right (-)</text>
</svg>
</body></html>
